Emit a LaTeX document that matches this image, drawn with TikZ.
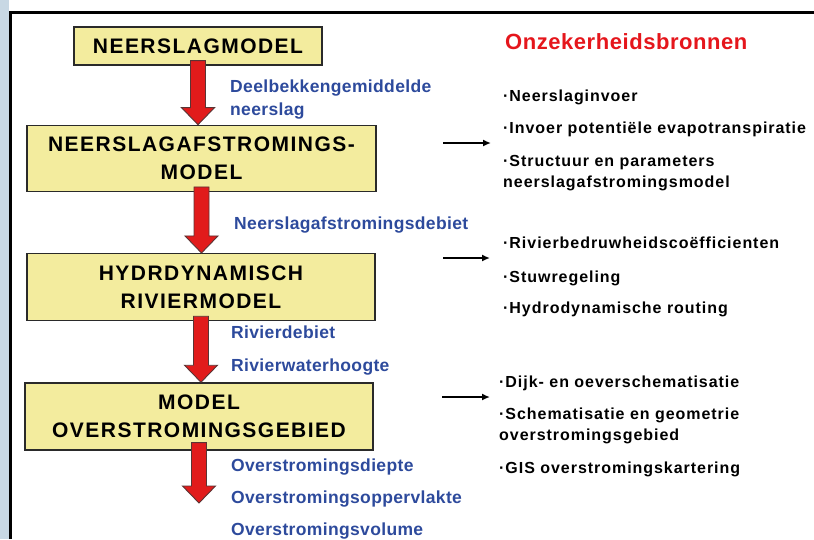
\documentclass[tikz,border=0pt]{standalone}
\usepackage{fontspec}
\setmainfont{Liberation Sans}
\newfontfamily\boxface[LetterSpace=7]{Liberation Sans}
\newfontfamily\labelface[LetterSpace=2]{Liberation Sans}
\newfontfamily\itemface[LetterSpace=6]{Liberation Sans}
\newfontfamily\titleface[LetterSpace=2.5]{Liberation Sans}
\usetikzlibrary{positioning,arrows.meta,calc}
\definecolor{boxfill}{HTML}{F3EC9E}
\definecolor{boxline}{HTML}{2A2A2A}
\definecolor{labelblue}{HTML}{2D4A9C}
\definecolor{flowred}{HTML}{E11B1B}
\definecolor{rimgray}{HTML}{5A3434}
\definecolor{titlered}{HTML}{E5161C}
\definecolor{bluestrip}{HTML}{C8D8E4}

\begin{document}
\begin{tikzpicture}[x=1pt,y=-1pt,
  model/.style={draw=boxline, line width=1.3pt, fill=boxfill, align=center, inner sep=0pt,
    font=\boxface\bfseries\fontsize{21}{27.5}\selectfont},
  flow/.style={fill=flowred, draw=rimgray, line width=0.9pt, line join=miter,
    to path={let \p1=(\tikztostart), \p2=(\tikztotarget) in
      (\x1-7.5pt,\y1) -- (\x1-7.5pt,\y2+17pt) -- (\x1-16.5pt,\y2+17pt) -- (\x1,\y2)
      -- (\x1+16.5pt,\y2+17pt) -- (\x1+7.5pt,\y2+17pt) -- (\x1+7.5pt,\y1) -- cycle}},
  result/.style={anchor=base west, inner sep=0pt, text=labelblue,
    font=\labelface\bfseries\fontsize{17.5}{21}\selectfont},
  source/.style={anchor=base west, inner sep=0pt,
    font=\itemface\bfseries\fontsize{16}{21}\selectfont},
  pointer/.style={line width=1.6pt, -{Latex[length=8pt,width=7pt]}}
]
\useasboundingbox (0,0) rectangle (814,539);
\fill[bluestrip] (0,0) rectangle (8.5,539);
\draw[line width=3pt] (10,539) -- (10,12) -- (814,12);

% modelketen
\node[model, minimum width=248pt, minimum height=38pt] (m-1) at (198,46) {NEERSLAGMODEL};
\node[model, minimum width=349pt, minimum height=66pt, below=59pt of m-1, xshift=3.5pt] (m-2) {NEERSLAGAFSTROMINGS-\\MODEL};
\node[model, minimum width=348pt, minimum height=67pt, below=61pt of m-2, xshift=-0.5pt] (m-3) {HYDRDYNAMISCH\\RIVIERMODEL};
\node[model, minimum width=348pt, minimum height=67pt, below=61pt of m-3, xshift=-2pt] (m-4) {MODEL\\OVERSTROMINGSGEBIED};
\coordinate (m-out) at (199,503);

\path
  ([yshift=5pt]m-1.south) edge[flow] (m-1.south |- m-2.north)
  ([yshift=5pt]m-2.south) edge[flow] ([xshift=-3pt]m-2.south |- m-3.north)
  ([yshift=5pt]m-3.south) edge[flow] ([xshift=-2pt]m-3.south |- m-4.north)
  ([yshift=8pt]m-4.south) edge[flow] (m-out)
  ;

% uitvoer
\node[result] (r-1a) at (230,92) {Deelbekkengemiddelde};
\node[result] (r-1b) at (230,115) {neerslag};
\node[result] (r-2) at (234,229) {Neerslagafstromingsdebiet};
\node[result] (r-3a) at (231,338) {Rivierdebiet};
\node[result] (r-3b) at (231,371) {Rivierwaterhoogte};
\node[result] (r-4a) at (231,471) {Overstromingsdiepte};
\node[result] (r-4b) at (231,503) {Overstromingsoppervlakte};
\node[result] (r-4c) at (231,535) {Overstromingsvolume};

% onzekerheden
\node[anchor=base west, inner sep=0pt, text=titlered,
  font=\titleface\bfseries\fontsize{22}{26}\selectfont] (title) at (505,49) {Onzekerheidsbronnen};

\node[source] (s-1a) at (503,101) {·Neerslaginvoer};
\node[source] (s-1b) at (503,133) {·Invoer potentiële evapotranspiratie};
\node[source] (s-1c) at (503,166) {·Structuur en parameters};
\node[source] (s-1d) at (503,187) {neerslagafstromingsmodel};
\node[source] (s-2a) at (503,248) {·Rivierbedruwheidscoëfficienten};
\node[source] (s-2b) at (503,282) {·Stuwregeling};
\node[source] (s-2c) at (503,313) {·Hydrodynamische routing};
\node[source] (s-3a) at (499,387) {·Dijk- en oeverschematisatie};
\node[source] (s-3b) at (499,419) {·Schematisatie en geometrie};
\node[source] (s-3c) at (499,440) {overstromingsgebied};
\node[source] (s-3d) at (499,473) {·GIS overstromingskartering};

\coordinate (p-1) at (443,143);
\coordinate (q-1) at (491,143);
\coordinate (p-2) at (443,258);
\coordinate (q-2) at (490,258);
\coordinate (p-3) at (442,397);
\coordinate (q-3) at (490,397);
\path[pointer]
  (p-1) edge (q-1)
  (p-2) edge (q-2)
  (p-3) edge (q-3)
  ;
\end{tikzpicture}
\end{document}
